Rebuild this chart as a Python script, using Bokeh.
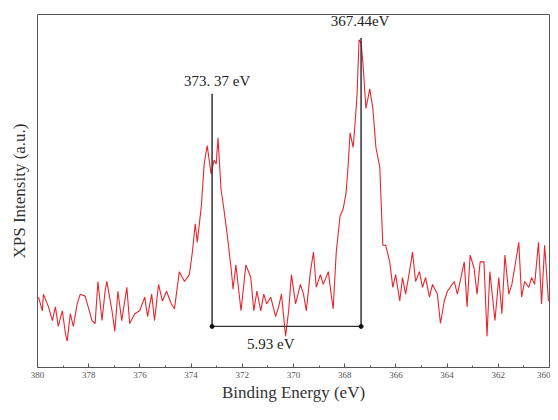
from bokeh.plotting import figure
from bokeh.models import Range1d, FixedTicker
from bokeh.embed import file_html
from bokeh.resources import INLINE
from bokeh.core.properties import value

# Binding energy (eV) and XPS intensity (a.u.)
energy = [379.96, 379.81, 379.77, 379.57, 379.42, 379.30, 379.19, 379.03, 378.91, 378.84,
          378.72, 378.60, 378.45, 378.33, 378.14, 378.02, 377.87, 377.75, 377.64, 377.48,
          377.36, 377.29, 377.09, 376.98, 376.86, 376.71, 376.51, 376.40, 376.20, 376.01,
          375.81, 375.70, 375.54, 375.43, 375.27, 375.12, 374.96, 374.77, 374.65, 374.46,
          374.26, 374.07, 373.95, 373.84, 373.76, 373.60, 373.49, 373.37, 373.22, 373.10,
          373.02, 372.95, 372.83, 372.75, 372.60, 372.44, 372.36, 372.25, 372.05, 371.86,
          371.67, 371.55, 371.43, 371.28, 371.16, 371.05, 370.89, 370.70, 370.58, 370.47,
          370.31, 370.19, 370.08, 369.92, 369.73, 369.61, 369.50, 369.34, 369.22, 369.11,
          368.95, 368.84, 368.64, 368.53, 368.45, 368.33, 368.18, 368.06, 367.95, 367.87,
          367.79, 367.67, 367.60, 367.52, 367.44, 367.36, 367.29, 367.17, 367.02, 366.90,
          366.78, 366.63, 366.51, 366.40, 366.24, 366.12, 366.01, 365.85, 365.74, 365.62,
          365.47, 365.35, 365.23, 365.08, 364.96, 364.84, 364.69, 364.57, 364.38, 364.26,
          364.11, 363.99, 363.88, 363.72, 363.60, 363.49, 363.33, 363.22, 363.10, 362.95,
          362.83, 362.71, 362.56, 362.44, 362.33, 362.13, 361.98, 361.86, 361.74, 361.59,
          361.47, 361.36, 361.20, 361.09, 360.97, 360.81, 360.70, 360.58, 360.43, 360.31,
          360.19, 360.04]
intensity = [72, 58, 75, 62, 48, 62, 42, 58, 35, 27,
             55, 42, 65, 75, 73, 62, 48, 45, 88, 48,
             78, 88, 58, 37, 78, 48, 82, 45, 55, 58,
             72, 52, 75, 48, 85, 68, 78, 65, 60, 98,
             88, 95, 118, 147, 128, 165, 208, 227, 198, 212,
             208, 235, 182, 168, 138, 102, 80, 105, 58, 105,
             92, 58, 78, 58, 75, 65, 72, 52, 62, 75,
             32, 58, 95, 65, 85, 75, 58, 98, 118, 82,
             95, 85, 98, 75, 60, 118, 155, 162, 178, 205,
             240, 225, 248, 278, 335, 332, 312, 265, 285, 265,
             225, 205, 125, 125, 108, 82, 95, 68, 92, 75,
             98, 118, 88, 98, 82, 92, 72, 85, 75, 45,
             68, 78, 82, 88, 75, 88, 108, 62, 115, 102,
             75, 108, 108, 32, 98, 48, 92, 55, 115, 75,
             85, 102, 128, 72, 88, 82, 92, 85, 128, 65,
             125, 68]

x_ticks = [380, 378, 376, 374, 372, 370, 368, 366, 364, 362, 360]
x_minor_ticks = [379, 377, 375, 373, 371, 369, 367, 365, 363, 361]

peak_energy = [373.18, 367.36]
peak_top = [280, 337]
bracket_y = 42
peak_labels = ["373. 37 eV", "367.44eV"]
peak_label_x = [372.98, 367.40]
peak_label_y = [293, 354]
split_label = ["5.93 eV"]
split_label_x = [370.89]
split_label_y = [24]

SERIF = "Liberation Serif"

p = figure(width=550, height=404, x_range=Range1d(380, 360), y_range=Range1d(0, 361),
           output_backend="svg", toolbar_location=None,
           min_border_left=37, min_border_right=1, min_border_top=14, min_border_bottom=35)
p.grid.visible = False
p.outline_line_color = "#555555"
p.outline_line_width = 1
p.background_fill_color = "white"
p.border_fill_color = "white"

p.line(energy, intensity, color="#e8262e", line_width=1.1)

# peak markers and separation bracket
p.segment(x0=peak_energy, y0=[bracket_y, bracket_y], x1=peak_energy, y1=peak_top,
          color="#333333", line_width=1.5)
p.segment(x0=[peak_energy[0]], y0=[bracket_y], x1=[peak_energy[1]], y1=[bracket_y],
          color="#333333", line_width=1.2)
p.scatter(peak_energy, [bracket_y, bracket_y], size=4, color="#111111")

p.text(x=peak_label_x, y=peak_label_y, text=peak_labels, text_font=value(SERIF),
       text_font_size="15px", text_color="#222222", text_align="center",
       text_baseline="middle")
p.text(x=split_label_x, y=split_label_y, text=split_label, text_font=value(SERIF),
       text_font_size="15px", text_color="#222222", text_align="center",
       text_baseline="middle")

xa = p.xaxis[0]
xa.ticker = FixedTicker(ticks=x_ticks, minor_ticks=x_minor_ticks)
xa.major_tick_in = 4
xa.major_tick_out = 0
xa.minor_tick_in = 2
xa.minor_tick_out = 0
xa.axis_line_color = "#555555"
xa.major_tick_line_color = "#555555"
xa.minor_tick_line_color = "#555555"
xa.major_label_text_font = SERIF
xa.major_label_text_font_size = "9px"
xa.major_label_text_color = "#555555"
xa.major_label_standoff = 4
xa.axis_label = "Binding Energy (eV)"
xa.axis_label_text_font = SERIF
xa.axis_label_text_font_size = "17px"
xa.axis_label_text_font_style = "normal"
xa.axis_label_text_color = "#333333"
xa.axis_label_standoff = 2

ya = p.yaxis[0]
ya.ticker = FixedTicker(ticks=[])
ya.major_label_text_font_size = "0px"
ya.major_tick_out = 0
ya.major_tick_in = 0
ya.minor_tick_out = 0
ya.minor_tick_in = 0
ya.major_label_standoff = 0
ya.axis_line_color = None
ya.axis_label = "XPS Intensity (a.u.)"
ya.axis_label_text_font = SERIF
ya.axis_label_text_font_size = "17px"
ya.axis_label_text_font_style = "normal"
ya.axis_label_text_color = "#333333"
ya.axis_label_standoff = 9

open("out.html", "w").write(file_html(p, INLINE))
